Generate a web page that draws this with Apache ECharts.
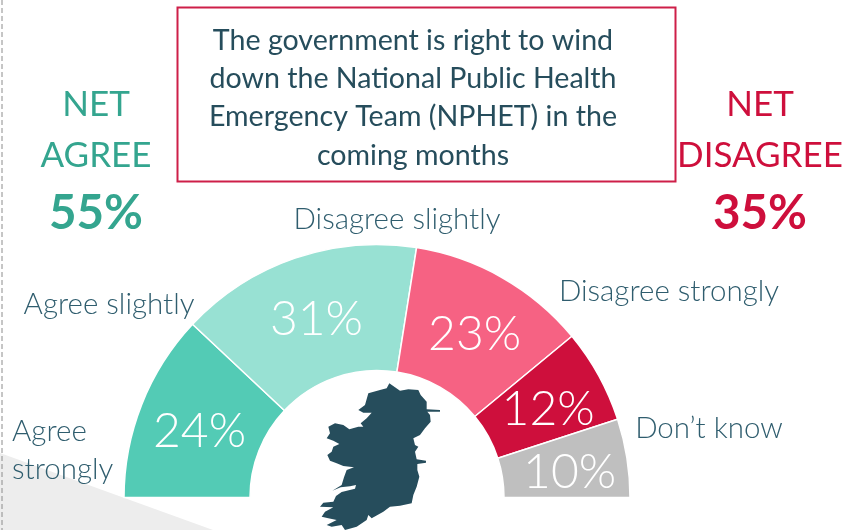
<!DOCTYPE html>
<html><head><meta charset="utf-8">
<style>html,body{margin:0;padding:0;background:#fff}#c{width:846px;height:530px}</style>
<script src="https://cdn.jsdelivr.net/npm/echarts@6/dist/echarts.min.js"></script></head>
<body><div id="c"></div>
<script>
const categories=['Agree strongly','Agree slightly','Disagree slightly','Disagree strongly',"Don\u2019t know"];
const values=[24,31,23,12,10];
const colors=['#53CBB5','#98E1D3','#F66283','#CE0F3C','#BFBFBF'];
const titleLines=['The government is right to wind','down the National Public Health','Emergency Team (NPHET) in the','coming months'];
const netAgree=['NET','AGREE','55%'];
const netDisagree=['NET','DISAGREE','35%'];
const irelandOutline=[[268,40],[285,52],[300,62],[325,58],[355,60],[362,75],[380,95],[380,118],[420,120],[420,125],[382,125],[390,135],[392,155],[375,175],[360,195],[340,205],[345,225],[355,230],[345,245],[350,268],[378,272],[378,278],[352,282],[352,300],[358,320],[350,350],[340,375],[335,400],[300,407],[270,410],[250,425],[215,445],[205,435],[200,450],[170,470],[135,480],[125,465],[95,470],[80,465],[110,450],[85,445],[65,440],[75,425],[100,412],[60,410],[70,398],[100,395],[108,378],[125,366],[165,356],[168,345],[150,349],[122,352],[97,362],[125,345],[132,322],[140,300],[162,292],[130,288],[110,280],[90,272],[82,255],[95,245],[100,230],[118,222],[100,212],[80,205],[90,190],[85,170],[105,160],[130,165],[148,178],[175,170],[190,170],[182,160],[200,145],[215,128],[190,128],[175,120],[195,105],[205,70],[240,60],[260,55]];

const F='Lato, "Open Sans", sans-serif';
const INK='#2F5D6E', DARK='#264D5C', GREEN='#34A58F', RED='#CE0F3C';
function t(text,x,y,size,fill,o){return {type:'text',z:5,style:Object.assign({text,x,y,fontSize:size,fontFamily:F,fontWeight:300,fill,align:'center',verticalAlign:'middle'},o||{})};}
const g=[];
g.push({type:'polygon',z:0,shape:{points:[[0,453],[213,530],[0,530]]},style:{fill:'#EDEDED'}});
g.push({type:'line',z:1,shape:{x1:2,y1:0,x2:2,y2:530},style:{stroke:'#8C8C8C',lineWidth:1,lineDash:[5,3]}});
g.push({type:'rect',z:1,shape:{x:177.5,y:7.5,width:498,height:174},style:{fill:'#fff',stroke:'#CE1F48',lineWidth:2}});
[41,79,117,156].forEach((y,i)=>g.push(t(titleLines[i],413,y,28.6,DARK,{fontWeight:400})));
[[netAgree,96,GREEN],[netDisagree,760,RED]].forEach(([a,x,c])=>{
  g.push(t(a[0],x,105,35,c,{fontWeight:400}));
  g.push(t(a[1],x,156,35,c,{fontWeight:400}));
  g.push(t(a[2],x,214,47.5,c,{fontWeight:700}));
});
g.push(t('Disagree slightly',397,219,29.5,INK));
g.push(t('Agree slightly',109,304,29.5,INK));
g.push(t('Disagree strongly',669,291,29.5,INK));
g.push(t(categories[4],709,428,29.5,INK));
g.push(t('Agree',12,431,29.5,INK,{align:'left'}));
g.push(t('strongly',12,469,29.5,INK,{align:'left'}));
g.push({type:'polygon',z:4,shape:{points:irelandOutline.map(p=>[300+p[0]/3,370+p[1]/3])},style:{fill:DARK}});

const chart=echarts.init(document.getElementById('c'),null,{renderer:'canvas'});
chart.setOption({
  animation:false,
  graphic:{elements:g},
  series:[{
    type:'pie',center:[377,497.5],radius:[127,253],startAngle:180,endAngle:360,
    clockwise:true,z:3,
    data:categories.map((n,i)=>({name:n,value:values[i],itemStyle:{color:colors[i]}})),
    itemStyle:{borderColor:'#fff',borderWidth:1.5},
    label:{position:'inside',formatter:'{c}%',color:'#fff',fontFamily:F,fontWeight:300,fontSize:48,offset:[2,5]},
    labelLine:{show:false},
    emphasis:{disabled:true}
  }]
});
</script></body></html>
